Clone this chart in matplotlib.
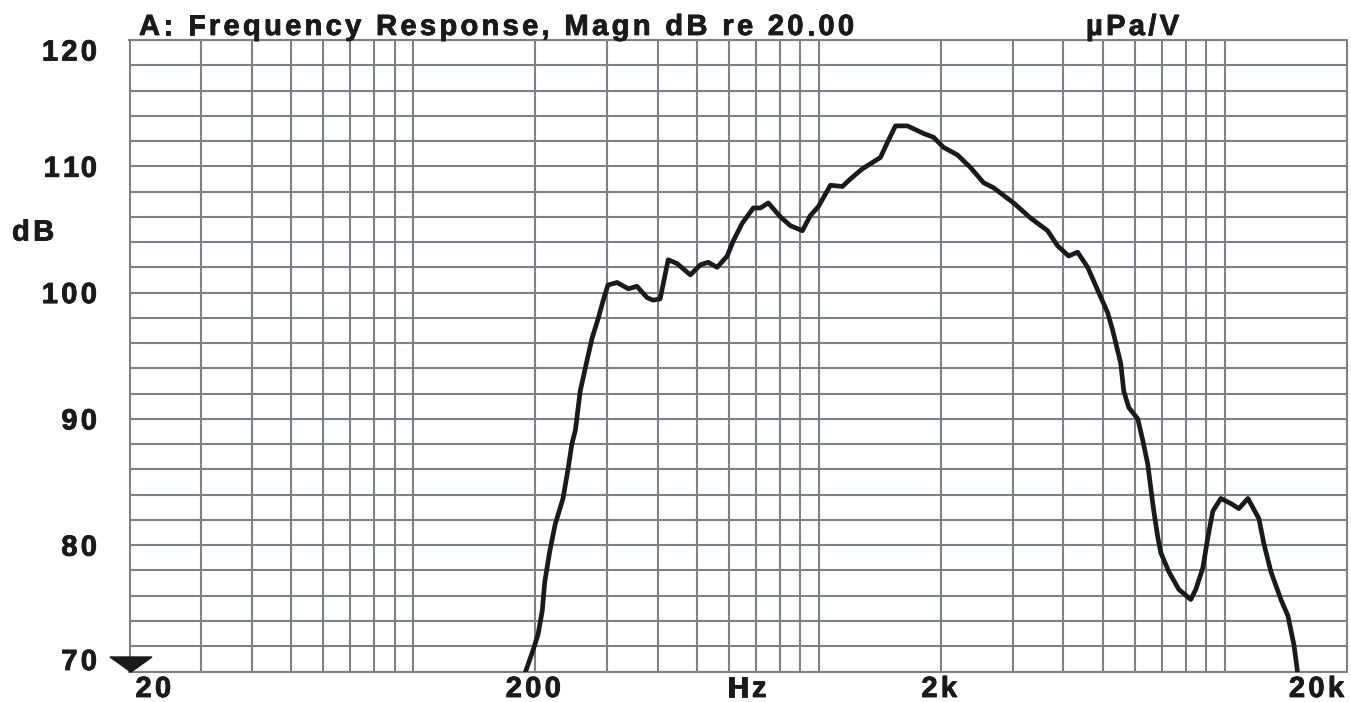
import matplotlib.pyplot as plt
import matplotlib.patheffects as pe
from matplotlib.patches import Polygon
from matplotlib.ticker import LogLocator, NullFormatter, MultipleLocator
from matplotlib.font_manager import FontProperties

plt.rcParams['font.family'] = ['Liberation Sans', 'DejaVu Sans']
plt.rcParams['font.weight'] = 'bold'

# response (Hz, dB)
freq = [186, 197, 203, 208, 211, 217, 224, 228, 234, 241, 246, 251, 258, 268, 276,
        286, 294, 302, 318, 339, 356, 377, 390, 406, 425, 447, 482, 510, 533, 561,
        594, 615, 647, 689, 717, 750, 803, 850, 910, 952, 996, 1067, 1142, 1195,
        1279, 1417, 1475, 1543, 1652, 1809, 1915, 2027, 2194, 2362, 2544, 2692,
        3016, 3322, 3659, 3873, 4122, 4338, 4592, 4860, 5145, 5294, 5540, 5636,
        5799, 6102, 6278, 6459, 6570, 6683, 6838, 6955, 7278, 7702, 8244, 8482,
        8826, 9080, 9342, 9776, 10348, 10828, 11400, 12134, 12484, 12990, 13748,
        14306, 14802, 15200]
level = [69.3, 71.6, 72.9, 74.8, 77.1, 79.5, 81.7, 82.5, 83.7, 86.1, 88.0, 89.1,
         92.2, 94.6, 96.4, 98.0, 99.4, 100.6, 100.8, 100.3, 100.5, 99.6, 99.4,
         99.5, 102.6, 102.3, 101.4, 102.2, 102.4, 102.0, 102.9, 104.1, 105.5,
         106.7, 106.7, 107.1, 106.0, 105.3, 104.9, 106.1, 106.8, 108.5, 108.4,
         109.0, 109.8, 110.7, 111.9, 113.2, 113.2, 112.6, 112.3, 111.5, 110.9,
         109.9, 108.7, 108.3, 107.1, 105.9, 104.9, 103.7, 102.9, 103.2, 102.0,
         100.2, 98.4, 97.0, 94.4, 92.2, 90.9, 90.0, 88.3, 86.4, 84.5, 82.7, 80.6,
         79.4, 77.9, 76.5, 75.7, 76.5, 78.2, 80.6, 82.7, 83.7, 83.3, 82.9, 83.7,
         82.1, 80.1, 77.9, 75.7, 74.4, 72.1, 69.3]

ytick_vals = [70, 80, 90, 100, 110, 120]
xtick_vals = [20, 200, 2000, 20000]
xtick_text = ['20', '200', '2k', '20k']

W, H = 1351, 702
fig = plt.figure(figsize=(W / 100, H / 100), dpi=100)
ax = fig.add_axes([129.5 / W, 1 - 671.5 / H, (1347 - 129.5) / W, 631.5 / H])

grid_c = '#7b8187'
ink = '#1a1a1a'
ax.plot(freq, level, color=ink, lw=3.4, solid_joinstyle='round', zorder=3)

ax.set_xscale('log')
ax.set_xlim(20, 20000)
ax.set_ylim(70, 120)
ax.xaxis.set_major_locator(LogLocator(base=10, subs=(1, 2, 3, 4, 5, 6, 7, 8, 9), numticks=40))
ax.xaxis.set_minor_locator(LogLocator(base=10, subs=(), numticks=40))
ax.xaxis.set_major_formatter(NullFormatter())
ax.yaxis.set_major_locator(MultipleLocator(2))
ax.yaxis.set_major_formatter(NullFormatter())
ax.tick_params(which='both', length=0)
ax.grid(True, which='major', color=grid_c, lw=1.5)
for s in ax.spines.values():
    s.set_color(grid_c)
    s.set_linewidth(1.5)

# letter-spaced heavy text, placed in pixel coords (y from top)
fp = FontProperties(family='Liberation Sans', weight='bold', size=21)
renderer = fig.canvas.get_renderer()
TRACK = 3.3
heavy = [pe.withStroke(linewidth=0.6, foreground=ink)]


def tracked(x, y, s, ha='left'):
    widths = [renderer.get_text_width_height_descent(s[:i], fp, ismath=False)[0] if i else 0
              for i in range(len(s) + 1)]
    total = widths[-1] + TRACK * (len(s) - 1)
    if ha == 'center':
        x -= total / 2
    elif ha == 'right':
        x -= total
    for i, ch in enumerate(s):
        if ch == ' ':
            continue
        fig.text((x + widths[i] + TRACK * i) / W, 1 - y / H, ch, fontproperties=fp,
                 ha='left', va='baseline', color=ink, path_effects=heavy)


for v in ytick_vals:
    yp = H - ax.transData.transform((20, v))[1]
    if v == 120:
        base = yp + 20.5
    elif v == 70:
        base = yp - 1.5
    else:
        base = yp + 10.5
    tracked(97, base, str(v), ha='right')

for v, t in zip(xtick_vals, xtick_text):
    xp = ax.transData.transform((v, 70))[0]
    if v == 20:
        tracked(xp + 6, 697, t, ha='left')
    elif v == 20000:
        tracked(xp - 3, 697, t, ha='right')
    else:
        tracked(xp - 2, 697, t, ha='center')
tracked(747, 697, 'Hz', ha='center')

tracked(12, 240.5, 'dB')
tracked(139, 35, 'A: Frequency Response, Magn dB re 20.00')
tracked(1086, 35, 'µPa/V')

# marker at the bottom-left corner
tri = Polygon([(110 / W, 1 - 657 / H), (152 / W, 1 - 657 / H), (131 / W, 1 - 672 / H)],
              closed=True, transform=fig.transFigure, color=ink, zorder=5)
fig.patches.append(tri)

fig.savefig('out.png', dpi=100)
